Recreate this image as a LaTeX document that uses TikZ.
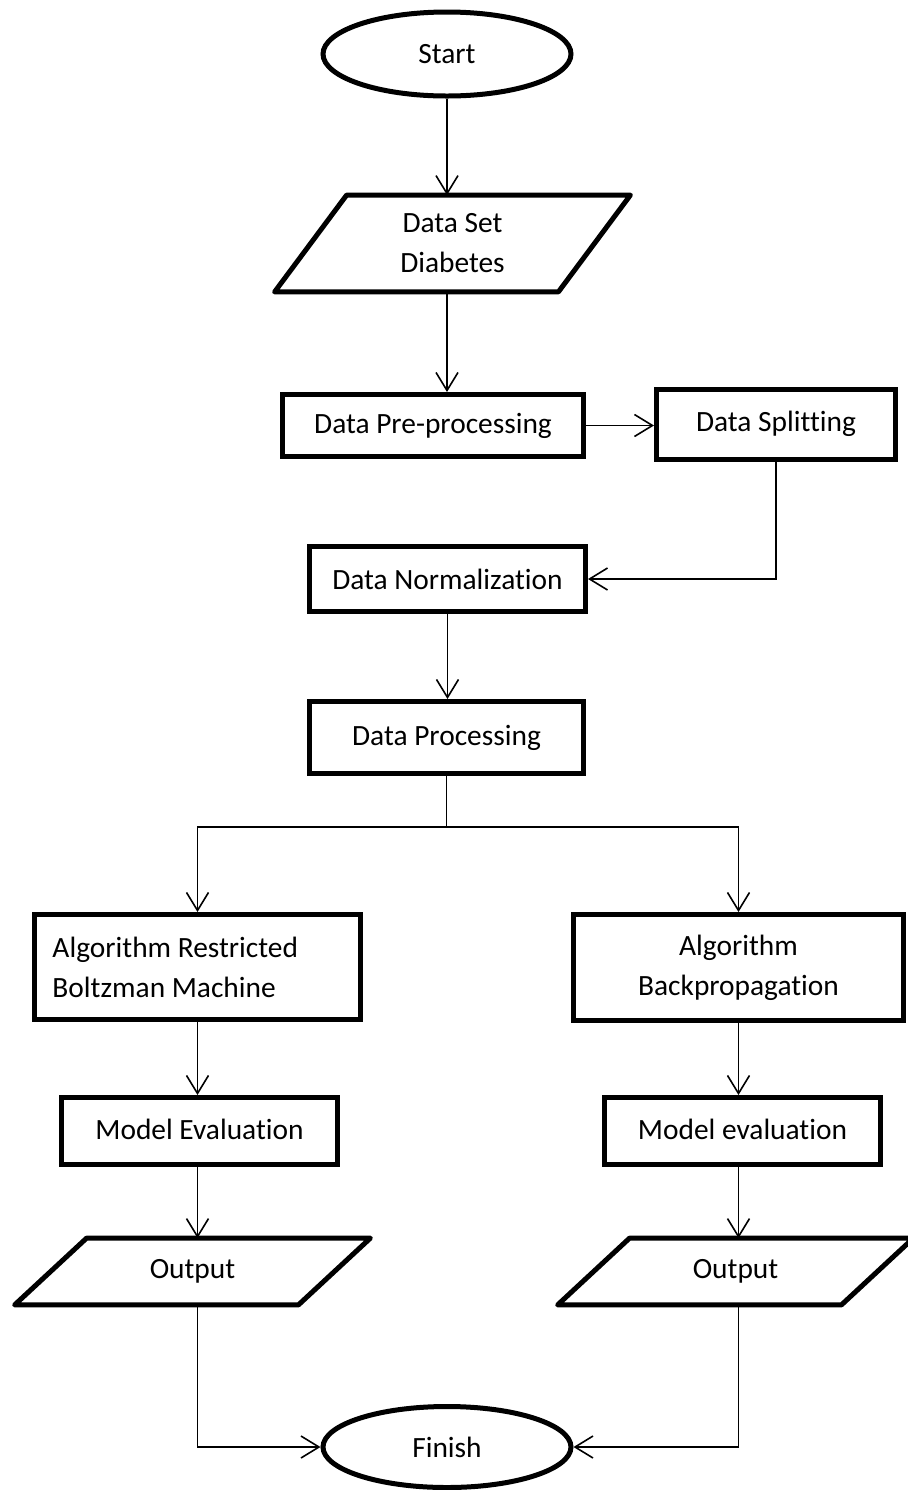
\documentclass[tikz,border=0pt]{standalone}
\usepackage{fontspec}
\setmainfont[Ligatures=NoCommon]{Carlito}
\usetikzlibrary{shapes.geometric,arrows.meta,calc}
\tikzset{
  txt/.style={font=\fontsize{14.7pt}{20pt}\selectfont, align=center, inner sep=0pt},
  procbox/.style={txt, draw, line width=2.5pt, rectangle},
  termbox/.style={txt, draw, line width=2.5pt, ellipse, minimum width=124pt},
  arr/.style={line width=0.8pt, -{Straight Barb[length=9pt,width=11pt,line width=0.8pt]}},
  link/.style={line width=0.8pt}
}
% outline of an input/output box round a node
\newcommand{\ioshape}[1]{%
  \draw[line width=2.5pt, line join=round]
    ($(#1.north west)+(18pt,0)$) -- ($(#1.north east)+(18pt,0)$) --
    ($(#1.south east)+(-18pt,0)$) -- ($(#1.south west)+(-18pt,0)$) -- cycle;}
\begin{document}
\begin{tikzpicture}[x=0.5pt,y=-0.5pt]
\useasboundingbox (0,0) rectangle (907,1490);
%
\node[termbox, minimum height=42pt] (start) at (447,54) {Start};
\node[txt, minimum width=141.5pt, minimum height=48pt] (dset) at (452.5,243.5) {Data Set\\Diabetes};
\ioshape{dset}
%
\node[procbox, minimum width=150.5pt, minimum height=31pt] (pre) at (433,425.5) {Data Pre-processing};
\node[procbox, minimum width=119.5pt, minimum height=35pt] (split) at (776,424.5) {\raisebox{3.5pt}{Data Splitting}};
\node[procbox, minimum width=138pt, minimum height=32.5pt] (norm) at (447.5,579) {Data Normalization};
\node[procbox, minimum width=137pt, minimum height=36pt] (proc) at (446.5,737.5) {\raisebox{2.5pt}{Data Processing}};
%
\node[procbox, align=flush left, text width=145pt, inner xsep=9pt, minimum height=52.5pt] (rbm) at (197.5,967) {Algorithm Restricted\\Boltzman Machine};
\node[procbox, minimum width=165pt, minimum height=53pt] (bp) at (738.5,967.5) {Algorithm\\Backpropagation};
%
\node[procbox, minimum width=138pt, minimum height=33.5pt] (evalrbm) at (199.5,1131) {\raisebox{2pt}{Model Evaluation}};
\node[procbox, minimum width=138pt, minimum height=33.5pt] (evalbp) at (742.5,1131) {\raisebox{2pt}{Model evaluation}};
%
\node[txt, minimum width=141.5pt, minimum height=33pt] (outrbm) at (192.5,1271.5) {\raisebox{2pt}{Output}};
\ioshape{outrbm}
\node[txt, minimum width=141.5pt, minimum height=33pt] (outbp) at (735.5,1271.5) {\raisebox{2pt}{Output}};
\ioshape{outbp}
%
\node[termbox, minimum height=40.5pt] (fin) at (447,1447) {Finish};
%
\coordinate (fork) at (446.5,827);
%
\draw[arr] (start) -- (start |- dset.north);
\draw[arr] (dset.south -| start) -- (pre.north -| start);
\draw[arr] (pre.east) -- (split.west |- pre.east);
\draw[arr] (split.south) |- (norm.east);
\draw[arr] (norm.south) -- (norm.south |- proc.north);
%
\draw[link] (proc.south) -- (fork);
\draw[arr] (fork) -| (rbm.north);
\draw[arr] (fork) -| (bp.north);
%
\draw[arr] (rbm.south) -- (rbm.south |- evalrbm.north);
\draw[arr] (bp.south) -- (bp.south |- evalbp.north);
\draw[arr] (rbm.south |- evalrbm.south) -- (rbm.south |- outrbm.north);
\draw[arr] (bp.south |- evalbp.south) -- (bp.south |- outbp.north);
\draw[arr] (rbm.south |- outrbm.south) |- (fin.west);
\draw[arr] (bp.south |- outbp.south) |- (fin.east);
\end{tikzpicture}
\end{document}
